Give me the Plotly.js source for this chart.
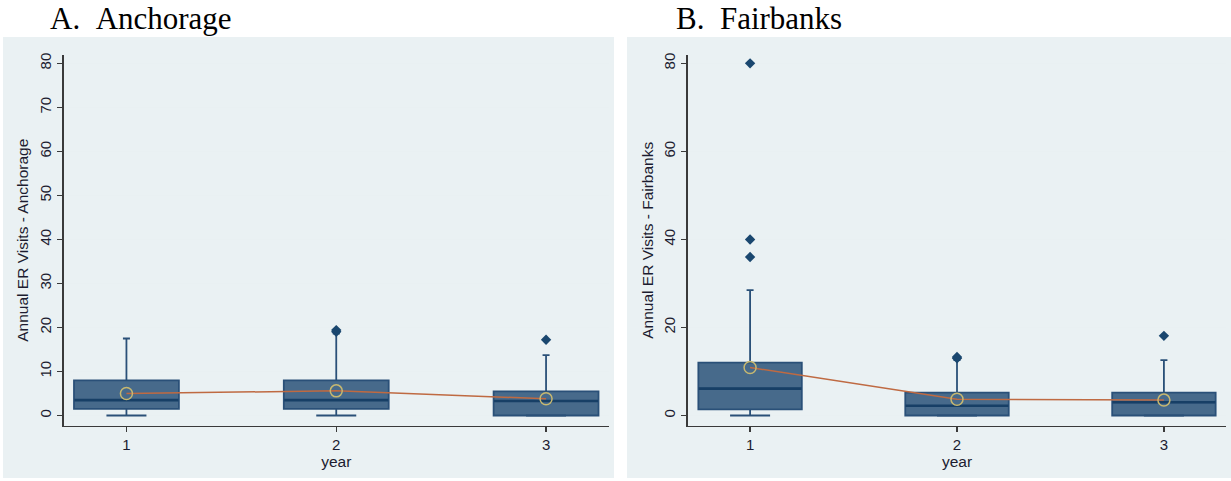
<!DOCTYPE html>
<html><head><meta charset="utf-8">
<script src="https://cdn.plot.ly/plotly-3.0.1.min.js"></script>
<style>html,body{margin:0;padding:0;background:#fff}#chart{width:1231px;height:481px}</style>
</head><body><div id="chart"></div>
<script>
// ---- data ----
const years = [1, 2, 3];
const tickLabels = ["1", "2", "3"];

const ancQ1 = [1.5, 1.5, 0];
const ancMedian = [3.5, 3.5, 3.3];
const ancQ3 = [8, 8, 5.5];
const ancLower = [0, 0, 0];
const ancUpper = [17.5, 18.6, 13.7];
const ancMean = [5.0, 5.6, 3.8];
const ancOutX = [2, 2, 3];
const ancOutY = [19.0, 19.4, 17.2];

const faiQ1 = [1.4, 0, 0];
const faiMedian = [6.1, 2.2, 3.0];
const faiQ3 = [12, 5.2, 5.2];
const faiLower = [0, 0, 0];
const faiUpper = [28.5, 12.6, 12.6];
const faiMean = [10.9, 3.7, 3.5];
const faiOutX = [1, 1, 1, 2, 2, 3];
const faiOutY = [80, 40, 36, 13.0, 13.3, 18.1];

// ---- styles ----
const W = 1231, H = 481;
const boxFill = '#476a8b', boxLine = '#2a5078', medC = '#173f66', outC = '#1a476f';
const meanLineC = '#bf6a42', meanMarkC = '#c7b870';
const panelBg = '#eaf1f3';
const font = {family: 'Liberation Sans, Arial, sans-serif', size: 15, color: '#1c1c30'};
const tfont = {family: 'Liberation Sans, Arial, sans-serif', size: 15.5, color: '#1c1c30'};
const LK = 1 / 1.4; // line-ew marker length factor

function panel(xa, ya, q1, med, q3, lo, up, mean, ox, oy, boxPx) {
  return [
    {type: 'box', x: years, q1: q1, median: med, q3: q3, lowerfence: lo, upperfence: up,
     xaxis: xa, yaxis: ya, width: 0.5, whiskerwidth: 0, boxpoints: false,
     fillcolor: boxFill, line: {color: boxLine, width: 1.8}, hoverinfo: 'skip', showlegend: false},
    {type: 'scatter', mode: 'markers', x: years, y: med, xaxis: xa, yaxis: ya,
     marker: {symbol: 'line-ew', size: boxPx * LK, line: {color: medC, width: 2.6}}, showlegend: false, hoverinfo: 'skip'},
    {type: 'scatter', mode: 'markers', x: years, y: lo, xaxis: xa, yaxis: ya,
     marker: {symbol: 'line-ew', size: 40 * LK, line: {color: boxLine, width: 2}}, showlegend: false, hoverinfo: 'skip'},
    {type: 'scatter', mode: 'markers', x: years, y: up, xaxis: xa, yaxis: ya,
     marker: {symbol: 'line-ew', size: 7 * LK, line: {color: boxLine, width: 1.8}}, showlegend: false, hoverinfo: 'skip'},
    {type: 'scatter', mode: 'markers', x: ox, y: oy, xaxis: xa, yaxis: ya,
     marker: {symbol: 'diamond', size: 8, color: outC}, showlegend: false, hoverinfo: 'skip'},
    {type: 'scatter', mode: 'lines', x: years, y: mean, xaxis: xa, yaxis: ya,
     line: {color: meanLineC, width: 1.5}, showlegend: false, hoverinfo: 'skip'},
    {type: 'scatter', mode: 'markers', x: years, y: mean, xaxis: xa, yaxis: ya,
     marker: {symbol: 'circle-open', size: 12, color: meanMarkC, line: {width: 1.5}}, showlegend: false, hoverinfo: 'skip'}
  ];
}

const data = [].concat(
  panel('x', 'y', ancQ1, ancMedian, ancQ3, ancLower, ancUpper, ancMean, ancOutX, ancOutY, 104),
  panel('x2', 'y2', faiQ1, faiMedian, faiQ3, faiLower, faiUpper, faiMean, faiOutX, faiOutY, 103)
);

const yDom = [(H - 425.5) / H, (H - 55) / H];
function xaxis(dom) {
  return {domain: dom, range: [0.7, 3.3], tickvals: years, ticktext: tickLabels,
    showgrid: false, zeroline: false, showline: true, linecolor: '#3a3a3a', linewidth: 1.6,
    ticks: 'outside', ticklen: 5, tickcolor: '#3a3a3a', tickwidth: 1.5, tickfont: font,
    title: {text: 'year', font: tfont, standoff: 0}};
}
function yaxis(dom, anchor, step, title) {
  return {domain: dom, anchor: anchor, range: [-2.27, 81.9], dtick: step, tick0: 0,
    showgrid: true, gridcolor: '#e9f0f2', gridwidth: 1.2, zeroline: false,
    showline: true, linecolor: '#3a3a3a', linewidth: 1.6,
    ticks: 'outside', ticklen: 5, tickcolor: '#3a3a3a', tickwidth: 1.5, tickangle: -90, tickfont: font,
    title: {text: title, font: tfont, standoff: 4}};
}

const layout = {
  width: W, height: H, margin: {l: 0, r: 0, t: 0, b: 0},
  paper_bgcolor: '#ffffff', plot_bgcolor: '#ffffff', showlegend: false,
  xaxis: Object.assign(xaxis([63.5 / W, 609 / W]), {anchor: 'y'}),
  yaxis: yaxis(yDom, 'x', 10, 'Annual ER Visits - Anchorage'),
  xaxis2: Object.assign(xaxis([688 / W, 1226 / W]), {anchor: 'y2'}),
  yaxis2: yaxis(yDom, 'x2', 20, 'Annual ER Visits - Fairbanks'),
  shapes: [
    {type: 'rect', xref: 'paper', yref: 'paper', x0: 3 / W, x1: 614 / W, y0: (H - 478) / H, y1: (H - 37) / H,
     fillcolor: panelBg, line: {width: 0}, layer: 'below'},
    {type: 'rect', xref: 'paper', yref: 'paper', x0: 627 / W, x1: 1231 / W, y0: (H - 478) / H, y1: (H - 37) / H,
     fillcolor: panelBg, line: {width: 0}, layer: 'below'}
  ],
  annotations: [
    {xref: 'paper', yref: 'paper', x: 48 / W, y: 1 - 18 / H, xanchor: 'left', yanchor: 'middle',
     text: 'A.&nbsp;&nbsp;Anchorage', showarrow: false,
     font: {family: 'Liberation Serif, Times New Roman, serif', size: 31, color: '#000'}},
    {xref: 'paper', yref: 'paper', x: 674 / W, y: 1 - 18 / H, xanchor: 'left', yanchor: 'middle',
     text: 'B.&nbsp;&nbsp;Fairbanks', showarrow: false,
     font: {family: 'Liberation Serif, Times New Roman, serif', size: 31, color: '#000'}}
  ]
};

Plotly.newPlot('chart', data, layout, {staticPlot: true, displayModeBar: false});
</script></body></html>
